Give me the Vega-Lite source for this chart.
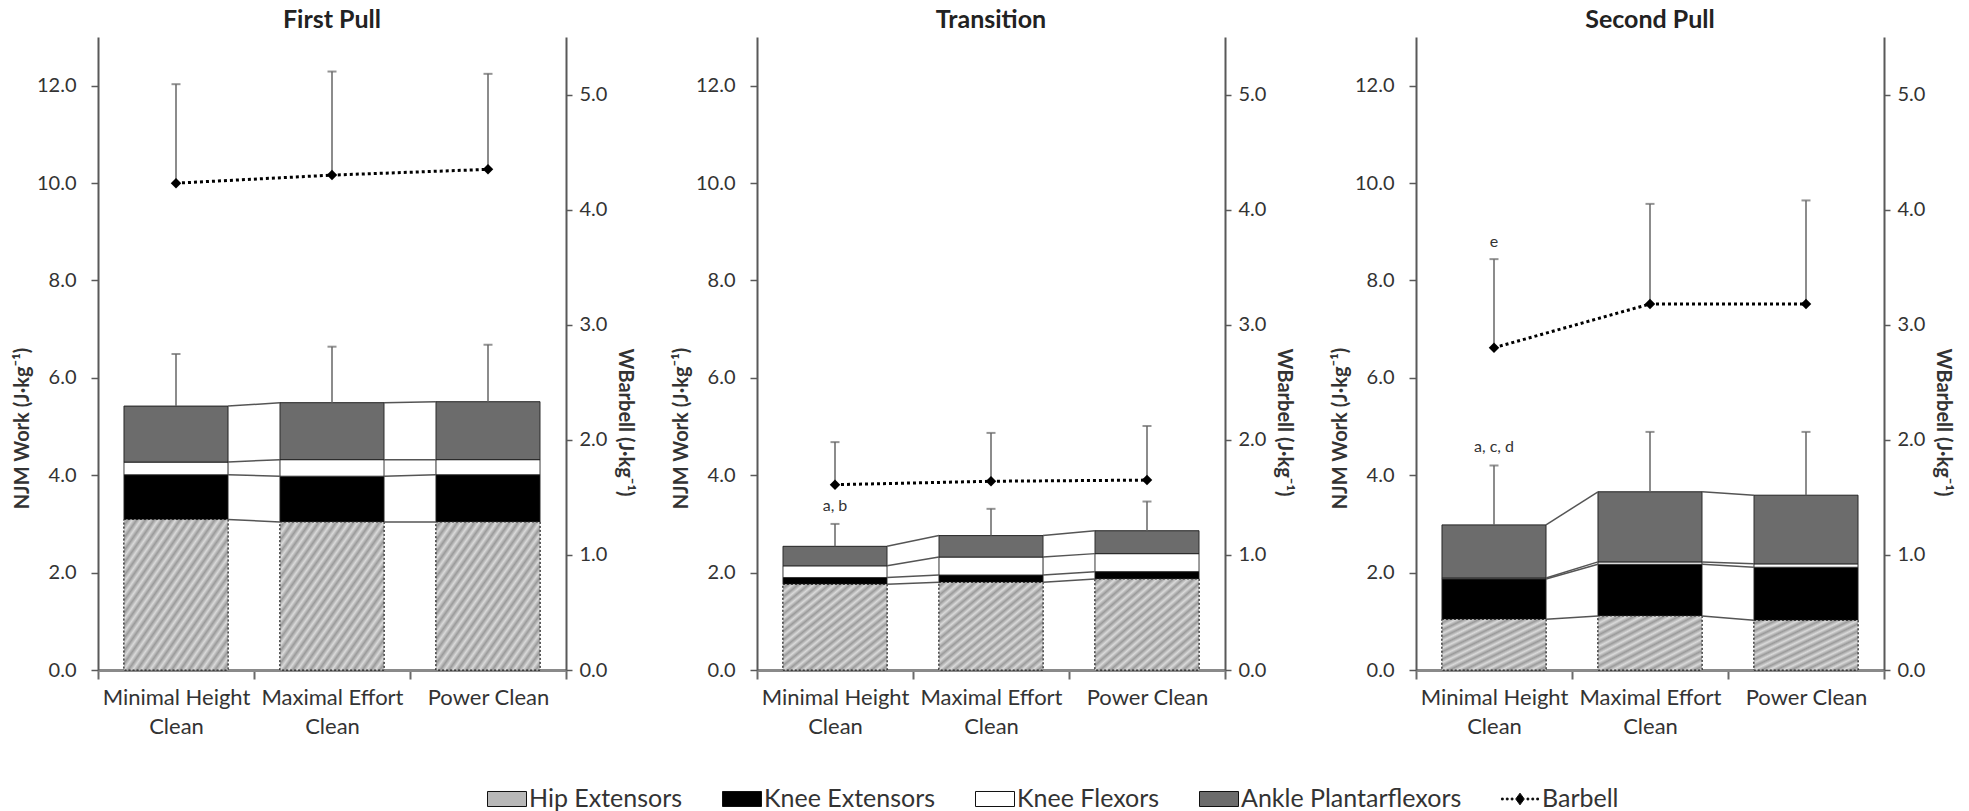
{
  "$schema": "https://vega.github.io/schema/vega-lite/v6.json",
  "padding": {"left": 12, "top": 8, "right": 5, "bottom": 5},
  "background": "white",
  "config": {
    "font": "Lato",
    "view": {"stroke": null},
    "title": {"font": "Lato", "fontSize": 25, "fontWeight": "bold", "color": "#222", "offset": 4},
    "axis": {"domainColor": "#595959", "domainWidth": 2, "tickColor": "#595959", "tickWidth": 1.5, "labelColor": "#333", "labelFont": "Lato", "labelFontSize": 20, "titleFont": "Lato", "titleFontSize": 20, "titleFontWeight": "bold", "titleColor": "#333", "grid": false},
    "legend": {"labelFont": "Lato", "labelFontSize": 25, "labelColor": "#333", "labelLimit": 400, "symbolSize": 1521, "symbolStrokeColor": "#111", "symbolStrokeWidth": 1, "labelOffset": 2, "columnPadding": 37}
  },
  "datasets": {
    "segments": [
      {"phase": "First Pull", "lift": "Minimal Height Clean", "series": "Hip Extensors", "value": 3.09},
      {"phase": "First Pull", "lift": "Minimal Height Clean", "series": "Knee Extensors", "value": 0.92},
      {"phase": "First Pull", "lift": "Minimal Height Clean", "series": "Knee Flexors", "value": 0.26},
      {"phase": "First Pull", "lift": "Minimal Height Clean", "series": "Ankle Plantarflexors", "value": 1.15},
      {"phase": "First Pull", "lift": "Maximal Effort Clean", "series": "Hip Extensors", "value": 3.04},
      {"phase": "First Pull", "lift": "Maximal Effort Clean", "series": "Knee Extensors", "value": 0.94},
      {"phase": "First Pull", "lift": "Maximal Effort Clean", "series": "Knee Flexors", "value": 0.34},
      {"phase": "First Pull", "lift": "Maximal Effort Clean", "series": "Ankle Plantarflexors", "value": 1.17},
      {"phase": "First Pull", "lift": "Power Clean", "series": "Hip Extensors", "value": 3.04},
      {"phase": "First Pull", "lift": "Power Clean", "series": "Knee Extensors", "value": 0.97},
      {"phase": "First Pull", "lift": "Power Clean", "series": "Knee Flexors", "value": 0.31},
      {"phase": "First Pull", "lift": "Power Clean", "series": "Ankle Plantarflexors", "value": 1.19},
      {"phase": "Transition", "lift": "Minimal Height Clean", "series": "Hip Extensors", "value": 1.76},
      {"phase": "Transition", "lift": "Minimal Height Clean", "series": "Knee Extensors", "value": 0.14},
      {"phase": "Transition", "lift": "Minimal Height Clean", "series": "Knee Flexors", "value": 0.24},
      {"phase": "Transition", "lift": "Minimal Height Clean", "series": "Ankle Plantarflexors", "value": 0.40},
      {"phase": "Transition", "lift": "Maximal Effort Clean", "series": "Hip Extensors", "value": 1.80},
      {"phase": "Transition", "lift": "Maximal Effort Clean", "series": "Knee Extensors", "value": 0.15},
      {"phase": "Transition", "lift": "Maximal Effort Clean", "series": "Knee Flexors", "value": 0.37},
      {"phase": "Transition", "lift": "Maximal Effort Clean", "series": "Ankle Plantarflexors", "value": 0.44},
      {"phase": "Transition", "lift": "Power Clean", "series": "Hip Extensors", "value": 1.87},
      {"phase": "Transition", "lift": "Power Clean", "series": "Knee Extensors", "value": 0.15},
      {"phase": "Transition", "lift": "Power Clean", "series": "Knee Flexors", "value": 0.37},
      {"phase": "Transition", "lift": "Power Clean", "series": "Ankle Plantarflexors", "value": 0.47},
      {"phase": "Second Pull", "lift": "Minimal Height Clean", "series": "Hip Extensors", "value": 1.04},
      {"phase": "Second Pull", "lift": "Minimal Height Clean", "series": "Knee Extensors", "value": 0.83},
      {"phase": "Second Pull", "lift": "Minimal Height Clean", "series": "Knee Flexors", "value": 0.02},
      {"phase": "Second Pull", "lift": "Minimal Height Clean", "series": "Ankle Plantarflexors", "value": 1.09},
      {"phase": "Second Pull", "lift": "Maximal Effort Clean", "series": "Hip Extensors", "value": 1.11},
      {"phase": "Second Pull", "lift": "Maximal Effort Clean", "series": "Knee Extensors", "value": 1.06},
      {"phase": "Second Pull", "lift": "Maximal Effort Clean", "series": "Knee Flexors", "value": 0.05},
      {"phase": "Second Pull", "lift": "Maximal Effort Clean", "series": "Ankle Plantarflexors", "value": 1.44},
      {"phase": "Second Pull", "lift": "Power Clean", "series": "Hip Extensors", "value": 1.02},
      {"phase": "Second Pull", "lift": "Power Clean", "series": "Knee Extensors", "value": 1.09},
      {"phase": "Second Pull", "lift": "Power Clean", "series": "Knee Flexors", "value": 0.07},
      {"phase": "Second Pull", "lift": "Power Clean", "series": "Ankle Plantarflexors", "value": 1.41}
    ],
    "totals": [
      {"phase": "First Pull", "lift": "Minimal Height Clean", "total": 5.42, "upper": 6.49, "sig": ""},
      {"phase": "First Pull", "lift": "Maximal Effort Clean", "total": 5.49, "upper": 6.64, "sig": ""},
      {"phase": "First Pull", "lift": "Power Clean", "total": 5.51, "upper": 6.68, "sig": ""},
      {"phase": "Transition", "lift": "Minimal Height Clean", "total": 2.54, "upper": 3.00, "sig": "a, b"},
      {"phase": "Transition", "lift": "Maximal Effort Clean", "total": 2.76, "upper": 3.31, "sig": ""},
      {"phase": "Transition", "lift": "Power Clean", "total": 2.86, "upper": 3.46, "sig": ""},
      {"phase": "Second Pull", "lift": "Minimal Height Clean", "total": 2.98, "upper": 4.20, "sig": "a, c, d"},
      {"phase": "Second Pull", "lift": "Maximal Effort Clean", "total": 3.66, "upper": 4.89, "sig": ""},
      {"phase": "Second Pull", "lift": "Power Clean", "total": 3.59, "upper": 4.89, "sig": ""}
    ],
    "barbell": [
      {"phase": "First Pull", "lift": "Minimal Height Clean", "series": "Barbell", "value": 4.23, "upper": 5.09, "sig": ""},
      {"phase": "First Pull", "lift": "Maximal Effort Clean", "series": "Barbell", "value": 4.30, "upper": 5.20, "sig": ""},
      {"phase": "First Pull", "lift": "Power Clean", "series": "Barbell", "value": 4.35, "upper": 5.18, "sig": ""},
      {"phase": "Transition", "lift": "Minimal Height Clean", "series": "Barbell", "value": 1.61, "upper": 1.98, "sig": ""},
      {"phase": "Transition", "lift": "Maximal Effort Clean", "series": "Barbell", "value": 1.64, "upper": 2.06, "sig": ""},
      {"phase": "Transition", "lift": "Power Clean", "series": "Barbell", "value": 1.65, "upper": 2.12, "sig": ""},
      {"phase": "Second Pull", "lift": "Minimal Height Clean", "series": "Barbell", "value": 2.80, "upper": 3.57, "sig": "e"},
      {"phase": "Second Pull", "lift": "Maximal Effort Clean", "series": "Barbell", "value": 3.18, "upper": 4.05, "sig": ""},
      {"phase": "Second Pull", "lift": "Power Clean", "series": "Barbell", "value": 3.18, "upper": 4.08, "sig": ""}
    ]
  },
  "spacing": 36,
  "hconcat": [
    {
      "width": 468, "height": 633,
      "title": {"text": "First Pull"},
      "encoding": {
        "x": {"field": "lift", "type": "nominal", "sort": ["Minimal Height Clean", "Maximal Effort Clean", "Power Clean"], "scale": {"paddingInner": 0, "paddingOuter": 0},
          "axis": {"title": null, "labelAngle": 0, "tickBand": "extent", "labelExpr": "isValid(datum.value) ? (datum.value == 'Power Clean' ? datum.value : [replace(datum.value, ' Clean', ''), 'Clean']) : ''", "labelLineHeight": 29, "labelPadding": 8, "tickSize": 9, "domainWidth": 3, "domainColor": "#8a8a8a", "tickColor": "#6a6a6a", "tickWidth": 2, "labelFontSize": 22}}
      },
      "layer": [
        {
          "layer": [
            {
              "data": {"name": "segments"},
              "transform": [
                {"filter": "datum.phase === 'First Pull'"},
                {"window": [{"op": "row_number", "as": "k"}], "groupby": ["lift"]},
                {"stack": "value", "groupby": ["lift"], "sort": [{"field": "k"}], "as": ["lo", "hi"]}
              ],
              "mark": {"type": "bar", "width": {"band": 0.667}, "stroke": "#222", "strokeWidth": 1},
              "encoding": {
                "y": {"field": "lo", "type": "quantitative", "scale": {"domain": [0, 13], "nice": false}, "axis": {"orient": "left", "values": [0, 2, 4, 6, 8, 10, 12], "format": ".1f", "title": "NJM Work (J·kg⁻¹)", "tickSize": 7, "labelPadding": 15, "titlePadding": 4, "titleY": 391}},
                "y2": {"field": "hi"},
                "color": {"field": "series", "type": "nominal", "scale": {"domain": ["Hip Extensors", "Knee Extensors", "Knee Flexors", "Ankle Plantarflexors", "Barbell"], "range": ["#b8b8b8", "#000000", "#ffffff", "#6c6c6c", "#000000"]},
                  "legend": {"orient": "none", "legendX": 389, "legendY": 742, "direction": "horizontal", "title": null,
                    "encode": {"symbols": {"update": {
                      "shape": {"signal": "datum.value === 'Barbell' ? 'M-0.22,0L0,-0.3L0.22,0L0,0.3Z M-0.95,-0.045h0.09v0.09h-0.09Z M-0.7,-0.045h0.09v0.09h-0.09Z M-0.45,-0.045h0.09v0.09h-0.09Z M0.36,-0.045h0.09v0.09h-0.09Z M0.61,-0.045h0.09v0.09h-0.09Z M0.86,-0.045h0.09v0.09h-0.09Z' : 'M-1,-0.385H1V0.385H-1Z'"}}}}}},
                "strokeDash": {"condition": {"test": "datum.series === 'Hip Extensors'", "value": [2, 2]}, "value": [1, 0]}
              }
            },
            {
              "data": {"name": "segments"},
              "transform": [
                {"filter": "datum.phase === 'First Pull' && datum.series === 'Hip Extensors'"}
              ],
              "mark": {"type": "bar", "width": {"band": 0.667}, "stroke": "#222", "strokeWidth": 1, "strokeDash": [2, 2],
                "fill": {"gradient": "linear", "x1": 0, "y1": 0, "x2": 1, "y2": 1, "stops": [{"offset": 0, "color": "#dadada"}, {"offset": 0.02083, "color": "#9a9a9a"}, {"offset": 0.04167, "color": "#dadada"}, {"offset": 0.0625, "color": "#9a9a9a"}, {"offset": 0.08333, "color": "#dadada"}, {"offset": 0.10417, "color": "#9a9a9a"}, {"offset": 0.125, "color": "#dadada"}, {"offset": 0.14583, "color": "#9a9a9a"}, {"offset": 0.16667, "color": "#dadada"}, {"offset": 0.1875, "color": "#9a9a9a"}, {"offset": 0.20833, "color": "#dadada"}, {"offset": 0.22917, "color": "#9a9a9a"}, {"offset": 0.25, "color": "#dadada"}, {"offset": 0.27083, "color": "#9a9a9a"}, {"offset": 0.29167, "color": "#dadada"}, {"offset": 0.3125, "color": "#9a9a9a"}, {"offset": 0.33333, "color": "#dadada"}, {"offset": 0.35417, "color": "#9a9a9a"}, {"offset": 0.375, "color": "#dadada"}, {"offset": 0.39583, "color": "#9a9a9a"}, {"offset": 0.41667, "color": "#dadada"}, {"offset": 0.4375, "color": "#9a9a9a"}, {"offset": 0.45833, "color": "#dadada"}, {"offset": 0.47917, "color": "#9a9a9a"}, {"offset": 0.5, "color": "#dadada"}, {"offset": 0.52083, "color": "#9a9a9a"}, {"offset": 0.54167, "color": "#dadada"}, {"offset": 0.5625, "color": "#9a9a9a"}, {"offset": 0.58333, "color": "#dadada"}, {"offset": 0.60417, "color": "#9a9a9a"}, {"offset": 0.625, "color": "#dadada"}, {"offset": 0.64583, "color": "#9a9a9a"}, {"offset": 0.66667, "color": "#dadada"}, {"offset": 0.6875, "color": "#9a9a9a"}, {"offset": 0.70833, "color": "#dadada"}, {"offset": 0.72917, "color": "#9a9a9a"}, {"offset": 0.75, "color": "#dadada"}, {"offset": 0.77083, "color": "#9a9a9a"}, {"offset": 0.79167, "color": "#dadada"}, {"offset": 0.8125, "color": "#9a9a9a"}, {"offset": 0.83333, "color": "#dadada"}, {"offset": 0.85417, "color": "#9a9a9a"}, {"offset": 0.875, "color": "#dadada"}, {"offset": 0.89583, "color": "#9a9a9a"}, {"offset": 0.91667, "color": "#dadada"}, {"offset": 0.9375, "color": "#9a9a9a"}, {"offset": 0.95833, "color": "#dadada"}, {"offset": 0.97917, "color": "#9a9a9a"}, {"offset": 1, "color": "#dadada"}]}},
              "encoding": {"y": {"field": "value", "type": "quantitative"}}
            },
            {
              "data": {"name": "segments"},
              "transform": [
                {"filter": "datum.phase === 'First Pull'"},
                {"window": [{"op": "row_number", "as": "k"}], "groupby": ["lift"]},
                {"window": [{"op": "row_number", "as": "j"}], "groupby": ["series"]},
                {"stack": "value", "groupby": ["lift"], "sort": [{"field": "k"}], "as": ["lo", "hi"]},
                {"window": [{"op": "lead", "field": "hi", "as": "nextHi"}, {"op": "lead", "field": "lift", "as": "nextLift"}], "groupby": ["series"], "sort": [{"field": "j"}]},
                {"filter": "datum.nextLift != null"}
              ],
              "mark": {"type": "rule", "color": "#555", "strokeWidth": 1.5},
              "encoding": {
                "x": {"field": "lift", "type": "nominal", "sort": ["Minimal Height Clean", "Maximal Effort Clean", "Power Clean"], "bandPosition": 0.8335},
                "x2": {"field": "nextLift", "bandPosition": 0.1665},
                "y": {"field": "hi", "type": "quantitative"},
                "y2": {"field": "nextHi"}
              }
            },
            {
              "data": {"name": "totals"},
              "transform": [{"filter": "datum.phase === 'First Pull'"}],
              "mark": {"type": "rule", "color": "#666", "strokeWidth": 1.5},
              "encoding": {"y": {"field": "total", "type": "quantitative"}, "y2": {"field": "upper"}}
            },
            {
              "data": {"name": "totals"},
              "transform": [{"filter": "datum.phase === 'First Pull'"}],
              "mark": {"type": "tick", "color": "#666", "thickness": 2, "size": 9},
              "encoding": {"y": {"field": "upper", "type": "quantitative"}}
            }
          ]
        },
        {
          "layer": [
            {
              "data": {"name": "barbell"},
              "transform": [{"filter": "datum.phase === 'First Pull'"}],
              "mark": {"type": "rule", "color": "#666", "strokeWidth": 1.5},
              "encoding": {
                "y": {"field": "value", "type": "quantitative", "scale": {"domain": [0, 5.5], "nice": false}, "axis": {"orient": "right", "values": [0, 1, 2, 3, 4, 5], "format": ".1f", "title": "WBarbell (J·kg⁻¹)", "tickSize": 6, "labelPadding": 7, "titlePadding": 8, "titleY": 385}},
                "y2": {"field": "upper"}
              }
            },
            {
              "data": {"name": "barbell"},
              "transform": [{"filter": "datum.phase === 'First Pull'"}],
              "mark": {"type": "tick", "color": "#666", "thickness": 2, "size": 9},
              "encoding": {"y": {"field": "upper", "type": "quantitative"}}
            },
            {
              "data": {"name": "barbell"},
              "transform": [{"filter": "datum.phase === 'First Pull'"}],
              "mark": {"type": "line", "color": "#000", "strokeWidth": 3, "strokeDash": [3, 3]},
              "encoding": {"y": {"field": "value", "type": "quantitative"}}
            },
            {
              "data": {"name": "barbell"},
              "transform": [{"filter": "datum.phase === 'First Pull'"}],
              "mark": {"type": "point", "shape": "diamond", "filled": true, "size": 110, "opacity": 1},
              "encoding": {
                "y": {"field": "value", "type": "quantitative"},
                "color": {"field": "series", "type": "nominal", "scale": {"domain": ["Hip Extensors", "Knee Extensors", "Knee Flexors", "Ankle Plantarflexors", "Barbell"], "range": ["#b8b8b8", "#000000", "#ffffff", "#6c6c6c", "#000000"]}}
              }
            }
          ]
        }
      ],
      "resolve": {"scale": {"y": "independent"}}
    },
    {
      "width": 468, "height": 633,
      "title": {"text": "Transition"},
      "encoding": {
        "x": {"field": "lift", "type": "nominal", "sort": ["Minimal Height Clean", "Maximal Effort Clean", "Power Clean"], "scale": {"paddingInner": 0, "paddingOuter": 0},
          "axis": {"title": null, "labelAngle": 0, "tickBand": "extent", "labelExpr": "isValid(datum.value) ? (datum.value == 'Power Clean' ? datum.value : [replace(datum.value, ' Clean', ''), 'Clean']) : ''", "labelLineHeight": 29, "labelPadding": 8, "tickSize": 9, "domainWidth": 3, "domainColor": "#8a8a8a", "tickColor": "#6a6a6a", "tickWidth": 2, "labelFontSize": 22}}
      },
      "layer": [
        {
          "layer": [
            {
              "data": {"name": "segments"},
              "transform": [
                {"filter": "datum.phase === 'Transition'"},
                {"window": [{"op": "row_number", "as": "k"}], "groupby": ["lift"]},
                {"stack": "value", "groupby": ["lift"], "sort": [{"field": "k"}], "as": ["lo", "hi"]}
              ],
              "mark": {"type": "bar", "width": {"band": 0.667}, "stroke": "#222", "strokeWidth": 1},
              "encoding": {
                "y": {"field": "lo", "type": "quantitative", "scale": {"domain": [0, 13], "nice": false}, "axis": {"orient": "left", "values": [0, 2, 4, 6, 8, 10, 12], "format": ".1f", "title": "NJM Work (J·kg⁻¹)", "tickSize": 7, "labelPadding": 15, "titlePadding": 4, "titleY": 391}},
                "y2": {"field": "hi"},
                "color": {"field": "series", "type": "nominal", "scale": {"domain": ["Hip Extensors", "Knee Extensors", "Knee Flexors", "Ankle Plantarflexors", "Barbell"], "range": ["#b8b8b8", "#000000", "#ffffff", "#6c6c6c", "#000000"]}},
                "strokeDash": {"condition": {"test": "datum.series === 'Hip Extensors'", "value": [2, 2]}, "value": [1, 0]}
              }
            },
            {
              "data": {"name": "segments"},
              "transform": [
                {"filter": "datum.phase === 'Transition' && datum.series === 'Hip Extensors'"}
              ],
              "mark": {"type": "bar", "width": {"band": 0.667}, "stroke": "#222", "strokeWidth": 1, "strokeDash": [2, 2],
                "fill": {"gradient": "linear", "x1": 0, "y1": 0, "x2": 1, "y2": 1, "stops": [{"offset": 0, "color": "#dadada"}, {"offset": 0.025, "color": "#9a9a9a"}, {"offset": 0.05, "color": "#dadada"}, {"offset": 0.075, "color": "#9a9a9a"}, {"offset": 0.1, "color": "#dadada"}, {"offset": 0.125, "color": "#9a9a9a"}, {"offset": 0.15, "color": "#dadada"}, {"offset": 0.175, "color": "#9a9a9a"}, {"offset": 0.2, "color": "#dadada"}, {"offset": 0.225, "color": "#9a9a9a"}, {"offset": 0.25, "color": "#dadada"}, {"offset": 0.275, "color": "#9a9a9a"}, {"offset": 0.3, "color": "#dadada"}, {"offset": 0.325, "color": "#9a9a9a"}, {"offset": 0.35, "color": "#dadada"}, {"offset": 0.375, "color": "#9a9a9a"}, {"offset": 0.4, "color": "#dadada"}, {"offset": 0.425, "color": "#9a9a9a"}, {"offset": 0.45, "color": "#dadada"}, {"offset": 0.475, "color": "#9a9a9a"}, {"offset": 0.5, "color": "#dadada"}, {"offset": 0.525, "color": "#9a9a9a"}, {"offset": 0.55, "color": "#dadada"}, {"offset": 0.575, "color": "#9a9a9a"}, {"offset": 0.6, "color": "#dadada"}, {"offset": 0.625, "color": "#9a9a9a"}, {"offset": 0.65, "color": "#dadada"}, {"offset": 0.675, "color": "#9a9a9a"}, {"offset": 0.7, "color": "#dadada"}, {"offset": 0.725, "color": "#9a9a9a"}, {"offset": 0.75, "color": "#dadada"}, {"offset": 0.775, "color": "#9a9a9a"}, {"offset": 0.8, "color": "#dadada"}, {"offset": 0.825, "color": "#9a9a9a"}, {"offset": 0.85, "color": "#dadada"}, {"offset": 0.875, "color": "#9a9a9a"}, {"offset": 0.9, "color": "#dadada"}, {"offset": 0.925, "color": "#9a9a9a"}, {"offset": 0.95, "color": "#dadada"}, {"offset": 0.975, "color": "#9a9a9a"}, {"offset": 1, "color": "#dadada"}]}},
              "encoding": {"y": {"field": "value", "type": "quantitative"}}
            },
            {
              "data": {"name": "segments"},
              "transform": [
                {"filter": "datum.phase === 'Transition'"},
                {"window": [{"op": "row_number", "as": "k"}], "groupby": ["lift"]},
                {"window": [{"op": "row_number", "as": "j"}], "groupby": ["series"]},
                {"stack": "value", "groupby": ["lift"], "sort": [{"field": "k"}], "as": ["lo", "hi"]},
                {"window": [{"op": "lead", "field": "hi", "as": "nextHi"}, {"op": "lead", "field": "lift", "as": "nextLift"}], "groupby": ["series"], "sort": [{"field": "j"}]},
                {"filter": "datum.nextLift != null"}
              ],
              "mark": {"type": "rule", "color": "#555", "strokeWidth": 1.5},
              "encoding": {
                "x": {"field": "lift", "type": "nominal", "sort": ["Minimal Height Clean", "Maximal Effort Clean", "Power Clean"], "bandPosition": 0.8335},
                "x2": {"field": "nextLift", "bandPosition": 0.1665},
                "y": {"field": "hi", "type": "quantitative"},
                "y2": {"field": "nextHi"}
              }
            },
            {
              "data": {"name": "totals"},
              "transform": [{"filter": "datum.phase === 'Transition'"}],
              "mark": {"type": "rule", "color": "#666", "strokeWidth": 1.5},
              "encoding": {"y": {"field": "total", "type": "quantitative"}, "y2": {"field": "upper"}}
            },
            {
              "data": {"name": "totals"},
              "transform": [{"filter": "datum.phase === 'Transition'"}],
              "mark": {"type": "tick", "color": "#666", "thickness": 2, "size": 9},
              "encoding": {"y": {"field": "upper", "type": "quantitative"}}
            },
            {
              "data": {"name": "totals"},
              "transform": [{"filter": "datum.phase === 'Transition' && datum.sig != ''"}],
              "mark": {"type": "text", "dy": -18, "fontSize": 16, "color": "#333", "font": "Lato"},
              "encoding": {"y": {"field": "upper", "type": "quantitative"}, "text": {"field": "sig"}}
            }
          ]
        },
        {
          "layer": [
            {
              "data": {"name": "barbell"},
              "transform": [{"filter": "datum.phase === 'Transition'"}],
              "mark": {"type": "rule", "color": "#666", "strokeWidth": 1.5},
              "encoding": {
                "y": {"field": "value", "type": "quantitative", "scale": {"domain": [0, 5.5], "nice": false}, "axis": {"orient": "right", "values": [0, 1, 2, 3, 4, 5], "format": ".1f", "title": "WBarbell (J·kg⁻¹)", "tickSize": 6, "labelPadding": 7, "titlePadding": 8, "titleY": 385}},
                "y2": {"field": "upper"}
              }
            },
            {
              "data": {"name": "barbell"},
              "transform": [{"filter": "datum.phase === 'Transition'"}],
              "mark": {"type": "tick", "color": "#666", "thickness": 2, "size": 9},
              "encoding": {"y": {"field": "upper", "type": "quantitative"}}
            },
            {
              "data": {"name": "barbell"},
              "transform": [{"filter": "datum.phase === 'Transition'"}],
              "mark": {"type": "line", "color": "#000", "strokeWidth": 3, "strokeDash": [3, 3]},
              "encoding": {"y": {"field": "value", "type": "quantitative"}}
            },
            {
              "data": {"name": "barbell"},
              "transform": [{"filter": "datum.phase === 'Transition'"}],
              "mark": {"type": "point", "shape": "diamond", "filled": true, "size": 110, "opacity": 1},
              "encoding": {
                "y": {"field": "value", "type": "quantitative"},
                "color": {"field": "series", "type": "nominal", "scale": {"domain": ["Hip Extensors", "Knee Extensors", "Knee Flexors", "Ankle Plantarflexors", "Barbell"], "range": ["#b8b8b8", "#000000", "#ffffff", "#6c6c6c", "#000000"]}}
              }
            }
          ]
        }
      ],
      "resolve": {"scale": {"y": "independent"}}
    },
    {
      "width": 468, "height": 633,
      "title": {"text": "Second Pull"},
      "encoding": {
        "x": {"field": "lift", "type": "nominal", "sort": ["Minimal Height Clean", "Maximal Effort Clean", "Power Clean"], "scale": {"paddingInner": 0, "paddingOuter": 0},
          "axis": {"title": null, "labelAngle": 0, "tickBand": "extent", "labelExpr": "isValid(datum.value) ? (datum.value == 'Power Clean' ? datum.value : [replace(datum.value, ' Clean', ''), 'Clean']) : ''", "labelLineHeight": 29, "labelPadding": 8, "tickSize": 9, "domainWidth": 3, "domainColor": "#8a8a8a", "tickColor": "#6a6a6a", "tickWidth": 2, "labelFontSize": 22}}
      },
      "layer": [
        {
          "layer": [
            {
              "data": {"name": "segments"},
              "transform": [
                {"filter": "datum.phase === 'Second Pull'"},
                {"window": [{"op": "row_number", "as": "k"}], "groupby": ["lift"]},
                {"stack": "value", "groupby": ["lift"], "sort": [{"field": "k"}], "as": ["lo", "hi"]}
              ],
              "mark": {"type": "bar", "width": {"band": 0.667}, "stroke": "#222", "strokeWidth": 1},
              "encoding": {
                "y": {"field": "lo", "type": "quantitative", "scale": {"domain": [0, 13], "nice": false}, "axis": {"orient": "left", "values": [0, 2, 4, 6, 8, 10, 12], "format": ".1f", "title": "NJM Work (J·kg⁻¹)", "tickSize": 7, "labelPadding": 15, "titlePadding": 4, "titleY": 391}},
                "y2": {"field": "hi"},
                "color": {"field": "series", "type": "nominal", "scale": {"domain": ["Hip Extensors", "Knee Extensors", "Knee Flexors", "Ankle Plantarflexors", "Barbell"], "range": ["#b8b8b8", "#000000", "#ffffff", "#6c6c6c", "#000000"]}},
                "strokeDash": {"condition": {"test": "datum.series === 'Hip Extensors'", "value": [2, 2]}, "value": [1, 0]}
              }
            },
            {
              "data": {"name": "segments"},
              "transform": [
                {"filter": "datum.phase === 'Second Pull' && datum.series === 'Hip Extensors'"}
              ],
              "mark": {"type": "bar", "width": {"band": 0.667}, "stroke": "#222", "strokeWidth": 1, "strokeDash": [2, 2],
                "fill": {"gradient": "linear", "x1": 0, "y1": 0, "x2": 1, "y2": 1, "stops": [{"offset": 0, "color": "#dadada"}, {"offset": 0.0357, "color": "#9a9a9a"}, {"offset": 0.0714, "color": "#dadada"}, {"offset": 0.1071, "color": "#9a9a9a"}, {"offset": 0.1429, "color": "#dadada"}, {"offset": 0.1786, "color": "#9a9a9a"}, {"offset": 0.2143, "color": "#dadada"}, {"offset": 0.25, "color": "#9a9a9a"}, {"offset": 0.2857, "color": "#dadada"}, {"offset": 0.3214, "color": "#9a9a9a"}, {"offset": 0.3571, "color": "#dadada"}, {"offset": 0.3929, "color": "#9a9a9a"}, {"offset": 0.4286, "color": "#dadada"}, {"offset": 0.4643, "color": "#9a9a9a"}, {"offset": 0.5, "color": "#dadada"}, {"offset": 0.5357, "color": "#9a9a9a"}, {"offset": 0.5714, "color": "#dadada"}, {"offset": 0.6071, "color": "#9a9a9a"}, {"offset": 0.6429, "color": "#dadada"}, {"offset": 0.6786, "color": "#9a9a9a"}, {"offset": 0.7143, "color": "#dadada"}, {"offset": 0.75, "color": "#9a9a9a"}, {"offset": 0.7857, "color": "#dadada"}, {"offset": 0.8214, "color": "#9a9a9a"}, {"offset": 0.8571, "color": "#dadada"}, {"offset": 0.8929, "color": "#9a9a9a"}, {"offset": 0.9286, "color": "#dadada"}, {"offset": 0.9643, "color": "#9a9a9a"}, {"offset": 1, "color": "#dadada"}]}},
              "encoding": {"y": {"field": "value", "type": "quantitative"}}
            },
            {
              "data": {"name": "segments"},
              "transform": [
                {"filter": "datum.phase === 'Second Pull'"},
                {"window": [{"op": "row_number", "as": "k"}], "groupby": ["lift"]},
                {"window": [{"op": "row_number", "as": "j"}], "groupby": ["series"]},
                {"stack": "value", "groupby": ["lift"], "sort": [{"field": "k"}], "as": ["lo", "hi"]},
                {"window": [{"op": "lead", "field": "hi", "as": "nextHi"}, {"op": "lead", "field": "lift", "as": "nextLift"}], "groupby": ["series"], "sort": [{"field": "j"}]},
                {"filter": "datum.nextLift != null"}
              ],
              "mark": {"type": "rule", "color": "#555", "strokeWidth": 1.5},
              "encoding": {
                "x": {"field": "lift", "type": "nominal", "sort": ["Minimal Height Clean", "Maximal Effort Clean", "Power Clean"], "bandPosition": 0.8335},
                "x2": {"field": "nextLift", "bandPosition": 0.1665},
                "y": {"field": "hi", "type": "quantitative"},
                "y2": {"field": "nextHi"}
              }
            },
            {
              "data": {"name": "totals"},
              "transform": [{"filter": "datum.phase === 'Second Pull'"}],
              "mark": {"type": "rule", "color": "#666", "strokeWidth": 1.5},
              "encoding": {"y": {"field": "total", "type": "quantitative"}, "y2": {"field": "upper"}}
            },
            {
              "data": {"name": "totals"},
              "transform": [{"filter": "datum.phase === 'Second Pull'"}],
              "mark": {"type": "tick", "color": "#666", "thickness": 2, "size": 9},
              "encoding": {"y": {"field": "upper", "type": "quantitative"}}
            },
            {
              "data": {"name": "totals"},
              "transform": [{"filter": "datum.phase === 'Second Pull' && datum.sig != ''"}],
              "mark": {"type": "text", "dy": -18, "fontSize": 16, "color": "#333", "font": "Lato"},
              "encoding": {"y": {"field": "upper", "type": "quantitative"}, "text": {"field": "sig"}}
            }
          ]
        },
        {
          "layer": [
            {
              "data": {"name": "barbell"},
              "transform": [{"filter": "datum.phase === 'Second Pull'"}],
              "mark": {"type": "rule", "color": "#666", "strokeWidth": 1.5},
              "encoding": {
                "y": {"field": "value", "type": "quantitative", "scale": {"domain": [0, 5.5], "nice": false}, "axis": {"orient": "right", "values": [0, 1, 2, 3, 4, 5], "format": ".1f", "title": "WBarbell (J·kg⁻¹)", "tickSize": 6, "labelPadding": 7, "titlePadding": 8, "titleY": 385}},
                "y2": {"field": "upper"}
              }
            },
            {
              "data": {"name": "barbell"},
              "transform": [{"filter": "datum.phase === 'Second Pull'"}],
              "mark": {"type": "tick", "color": "#666", "thickness": 2, "size": 9},
              "encoding": {"y": {"field": "upper", "type": "quantitative"}}
            },
            {
              "data": {"name": "barbell"},
              "transform": [{"filter": "datum.phase === 'Second Pull'"}],
              "mark": {"type": "line", "color": "#000", "strokeWidth": 3, "strokeDash": [3, 3]},
              "encoding": {"y": {"field": "value", "type": "quantitative"}}
            },
            {
              "data": {"name": "barbell"},
              "transform": [{"filter": "datum.phase === 'Second Pull'"}],
              "mark": {"type": "point", "shape": "diamond", "filled": true, "size": 110, "opacity": 1},
              "encoding": {
                "y": {"field": "value", "type": "quantitative"},
                "color": {"field": "series", "type": "nominal", "scale": {"domain": ["Hip Extensors", "Knee Extensors", "Knee Flexors", "Ankle Plantarflexors", "Barbell"], "range": ["#b8b8b8", "#000000", "#ffffff", "#6c6c6c", "#000000"]}}
              }
            },
            {
              "data": {"name": "barbell"},
              "transform": [{"filter": "datum.phase === 'Second Pull' && datum.sig != ''"}],
              "mark": {"type": "text", "dy": -17, "fontSize": 16, "color": "#333", "font": "Lato"},
              "encoding": {"y": {"field": "upper", "type": "quantitative"}, "text": {"field": "sig"}}
            }
          ]
        }
      ],
      "resolve": {"scale": {"y": "independent"}}
    }
  ]
}
